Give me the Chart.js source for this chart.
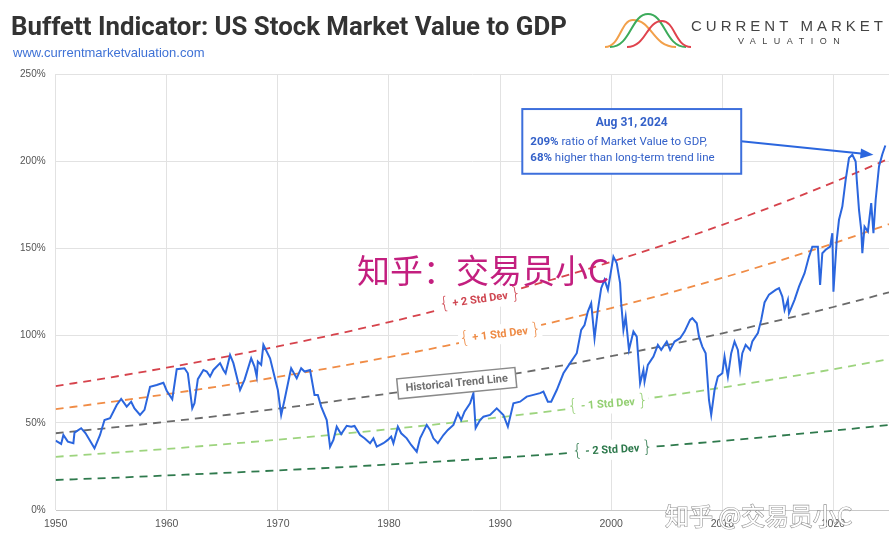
<!DOCTYPE html>
<html>
<head>
<meta charset="utf-8">
<script src="https://cdn.jsdelivr.net/npm/chart.js@4.4.1/dist/chart.umd.min.js"></script>
<style>
  html, body { margin: 0; padding: 0; background: #fff; }
  #wrap { width: 896px; height: 549px; position: relative; }
</style>
</head>
<body>
<div id="wrap"><canvas id="buffettChart" width="896" height="549"></canvas></div>
<script>
// Market value to GDP (%)
const years = [
  1950.0, 1950.5, 1950.7, 1951.1, 1951.6, 1951.7, 1952.3, 1952.7, 1953.5, 1954.0,
  1954.4, 1954.9, 1955.5, 1955.9, 1956.4, 1956.8, 1957.1, 1957.6, 1958.0, 1958.5,
  1959.1, 1959.7, 1960.0, 1960.5, 1960.9, 1961.6, 1961.9, 1962.3, 1962.5, 1962.8,
  1963.3, 1963.6, 1963.9, 1964.2, 1964.8, 1965.1, 1965.3, 1965.7, 1966.0, 1966.6,
  1967.0, 1967.6, 1967.9, 1968.1, 1968.2, 1968.5, 1968.7, 1969.3, 1969.7, 1970.0,
  1970.3, 1970.6, 1971.1, 1971.2, 1971.7, 1972.1, 1972.4, 1972.9, 1973.3, 1973.6,
  1973.9, 1974.4, 1974.7, 1975.0, 1975.3, 1975.7, 1976.2, 1976.6, 1976.9, 1977.4,
  1977.8, 1978.3, 1978.6, 1978.9, 1979.5, 1979.9, 1980.2, 1980.4, 1980.8, 1981.1,
  1981.6, 1982.0, 1982.5, 1982.8, 1983.4, 1983.7, 1984.0, 1984.4, 1984.9, 1985.3,
  1985.8, 1986.2, 1986.5, 1986.8, 1987.3, 1987.6, 1987.8, 1988.2, 1988.5, 1989.1,
  1989.7, 1990.3, 1990.7, 1991.2, 1991.8, 1992.4, 1993.0, 1993.6, 1993.9, 1994.3,
  1994.6, 1995.1, 1995.7, 1996.3, 1996.9, 1997.3, 1997.6, 1997.9, 1998.2, 1998.5,
  1998.8, 1999.1, 1999.4, 1999.7, 2000.2, 2000.5, 2000.8, 2000.9, 2001.1, 2001.3,
  2001.6, 2002.0, 2002.3, 2002.6, 2002.9, 2003.0, 2003.3, 2003.8, 2004.2, 2004.5,
  2005.0, 2005.3, 2005.7, 2006.2, 2006.6, 2007.1, 2007.3, 2007.7, 2007.9, 2008.2,
  2008.5, 2008.8, 2009.0, 2009.3, 2009.6, 2010.0, 2010.2, 2010.5, 2010.8, 2011.1,
  2011.4, 2011.6, 2011.8, 2012.1, 2012.5, 2012.7, 2013.2, 2013.5, 2013.8, 2014.2,
  2014.8, 2015.1, 2015.4, 2015.6, 2015.9, 2016.0, 2016.5, 2016.9, 2017.4, 2017.8,
  2018.1, 2018.6, 2018.8, 2019.0, 2019.3, 2019.7, 2019.9, 2020.0, 2020.3, 2020.5,
  2020.8, 2021.1, 2021.4, 2021.7, 2022.0, 2022.1, 2022.3, 2022.5, 2022.6, 2022.8,
  2023.1, 2023.4, 2023.6, 2023.8, 2024.1, 2024.4, 2024.67
];
const ratio = [
  39.8, 37.9, 43.0, 39.2, 38.3, 44.4, 46.9, 44.0, 35.4, 43.0,
  51.6, 52.6, 60.2, 63.7, 59.3, 62.1, 58.3, 54.5, 57.4, 70.7,
  71.7, 73.0, 68.4, 63.5, 80.7, 81.3, 78.4, 58.3, 61.2, 75.0,
  80.3, 79.4, 76.5, 80.3, 84.2, 80.3, 78.4, 88.9, 84.2, 68.8,
  74.6, 87.0, 82.2, 76.5, 85.1, 83.2, 94.7, 87.0, 76.5, 68.8,
  54.5, 63.1, 78.4, 81.3, 75.6, 81.3, 79.4, 80.3, 66.0, 66.0,
  59.3, 51.6, 36.3, 40.2, 47.8, 43.5, 48.3, 47.8, 48.2, 43.0,
  41.1, 38.3, 41.1, 36.3, 38.3, 40.2, 42.1, 38.3, 47.8, 44.0,
  41.1, 37.3, 33.4, 41.1, 48.8, 45.9, 41.1, 38.3, 43.0, 45.9,
  48.8, 55.5, 51.6, 56.4, 61.2, 67.0, 47.0, 51.6, 53.5, 54.5,
  58.3, 54.5, 47.8, 61.2, 62.1, 65.0, 66.0, 67.0, 67.9, 62.1,
  62.1, 68.8, 78.4, 84.2, 89.9, 103.3, 106.1, 113.8, 118.6, 98.5,
  114.7, 127.2, 132.0, 126.2, 145.3, 141.5, 130.1, 118.6, 103.3, 110.9,
  91.8, 102.3, 99.4, 72.7, 80.3, 73.6, 83.2, 88.0, 94.7, 91.8,
  96.6, 91.8, 96.6, 98.5, 102.3, 109.0, 110.0, 107.1, 99.4, 93.7,
  89.9, 63.1, 54.5, 68.8, 76.5, 78.4, 88.0, 76.5, 89.9, 96.6,
  91.8, 80.3, 89.9, 94.7, 91.8, 96.6, 101.4, 109.0, 119.0, 123.5,
  126.2, 127.2, 122.4, 114.7, 120.5, 112.8, 120.5, 128.1, 135.8, 145.3,
  151.0, 151.0, 129.0, 147.2, 149.2, 151.0, 158.7, 125.2, 154.9, 166.4,
  174.0, 189.3, 201.8, 203.7, 199.8, 189.3, 172.1, 160.6, 147.3, 162.5,
  159.7, 176.0, 158.7, 177.9, 197.0, 204.0, 209.0
];

// trend and std-dev bands, read every 5 years
const trendYears = [1950, 1955, 1960, 1965, 1970, 1975, 1980, 1985, 1990, 1995, 2000, 2005, 2010, 2015, 2020, 2025];
const plusTwoSd  = [71.0, 76.1, 81.6, 87.5, 93.8, 100.5, 107.7, 115.5, 123.8, 132.7, 142.3, 152.5, 163.5, 175.2, 187.9, 201.4];
const plusOneSd  = [57.8, 62.0, 66.4, 71.2, 76.3, 81.8, 87.7, 94.0, 100.8, 108.0, 115.8, 124.1, 133.1, 142.7, 152.9, 163.9];
const trendLine  = [44.0, 47.2, 50.6, 54.2, 58.1, 62.3, 66.8, 71.6, 76.7, 82.2, 88.2, 94.5, 101.3, 108.6, 116.4, 124.8];
const minusOneSd = [30.5, 32.7, 35.0, 37.6, 40.3, 43.2, 46.3, 49.6, 53.2, 57.0, 61.1, 65.5, 70.2, 75.3, 80.7, 86.5];
const minusTwoSd = [17.2, 18.4, 19.8, 21.2, 22.7, 24.3, 26.1, 28.0, 30.0, 32.1, 34.5, 36.9, 39.6, 42.5, 45.5, 48.8];

const xTicks = [1950, 1960, 1970, 1980, 1990, 2000, 2010, 2020];

const BLUE = '#2b66de';

function toPoints(xs, ys) {
  return xs.map((x, i) => ({ x: x, y: ys[i] }));
}

function bandDataset(values, color) {
  return {
    data: toPoints(trendYears, values),
    borderColor: color,
    borderWidth: 1.8,
    borderDash: [8, 6],
    pointRadius: 0,
    cubicInterpolationMode: 'monotone',
    fill: false
  };
}

// pixel point on a dataset line for a given year
function linePoint(chart, dsIndex, year) {
  const pts = chart.getDatasetMeta(dsIndex).data;
  const px = chart.scales.x.getPixelForValue(year);
  for (let i = 0; i < pts.length - 1; i++) {
    if (px >= pts[i].x && px <= pts[i + 1].x) {
      const t = (px - pts[i].x) / (pts[i + 1].x - pts[i].x);
      return { x: px, y: pts[i].y + t * (pts[i + 1].y - pts[i].y) };
    }
  }
  return null;
}

function drawTag(ctx, p, deg, text, color, boxed) {
  ctx.save();
  ctx.translate(p.x, p.y);
  ctx.rotate(deg * Math.PI / 180);
  ctx.font = 'bold 11px Roboto';
  const w = ctx.measureText(text).width;
  ctx.fillStyle = '#fff';
  if (boxed) {
    ctx.fillRect(-w / 2 - 8, -10, w + 16, 20);
    ctx.strokeStyle = '#8a8a8a';
    ctx.lineWidth = 1.5;
    ctx.strokeRect(-w / 2 - 8, -10, w + 16, 20);
  } else {
    ctx.fillRect(-w / 2 - 14, -10, w + 28, 20);
  }
  ctx.fillStyle = color;
  ctx.textAlign = 'center';
  ctx.textBaseline = 'middle';
  ctx.fillText(text, 0, 0.5);
  if (!boxed) {
    ctx.font = '300 17px "DejaVu Sans"';
    ctx.fillText('{', -w / 2 - 8, 0);
    ctx.fillText('}', w / 2 + 8, 0);
  }
  ctx.restore();
}

const bandLabels = {
  id: 'bandLabels',
  afterDatasetsDraw(chart) {
    const ctx = chart.ctx;
    const tags = [
      { ds: 1, year: 1988.2, deg: -8, text: '+ 2 Std Dev', color: '#cf4550' },
      { ds: 2, year: 1990.0, deg: -7, text: '+ 1 Std Dev', color: '#ee8a44' },
      { ds: 3, year: 1986.1, deg: -5.5, text: 'Historical Trend Line', color: '#6f6f6f', boxed: true },
      { ds: 4, year: 1999.7, deg: -4.5, text: '- 1 Std Dev', color: '#93cf72' },
      { ds: 5, year: 2000.1, deg: -3, text: '- 2 Std Dev', color: '#2f7a4d' }
    ];
    tags.forEach(t => {
      const p = linePoint(chart, t.ds, t.year);
      if (p) drawTag(ctx, p, t.deg, t.text, t.color, t.boxed);
    });
  }
};

const callout = {
  id: 'callout',
  afterDatasetsDraw(chart) {
    const ctx = chart.ctx;
    const xs = chart.scales.x, ys = chart.scales.y;
    const left = xs.getPixelForValue(1992.0), right = xs.getPixelForValue(2011.7);
    const top = ys.getPixelForValue(229.9), bottom = ys.getPixelForValue(192.8);
    ctx.save();
    // arrow to latest reading
    const ax = right, ay = ys.getPixelForValue(211.5);
    const tx = xs.getPixelForValue(2023.6), ty = ys.getPixelForValue(203.7);
    const ang = Math.atan2(ty - ay, tx - ax);
    ctx.strokeStyle = BLUE;
    ctx.fillStyle = BLUE;
    ctx.lineWidth = 2;
    ctx.beginPath();
    ctx.moveTo(ax, ay);
    ctx.lineTo(tx - 10 * Math.cos(ang), ty - 10 * Math.sin(ang));
    ctx.stroke();
    ctx.beginPath();
    ctx.moveTo(tx, ty);
    ctx.lineTo(tx - 13 * Math.cos(ang) + 5 * Math.sin(ang), ty - 13 * Math.sin(ang) - 5 * Math.cos(ang));
    ctx.lineTo(tx - 13 * Math.cos(ang) - 5 * Math.sin(ang), ty - 13 * Math.sin(ang) + 5 * Math.cos(ang));
    ctx.closePath();
    ctx.fill();
    // box
    ctx.fillStyle = '#fff';
    ctx.fillRect(left, top, right - left, bottom - top);
    ctx.strokeStyle = '#3d6fdc';
    ctx.lineWidth = 2;
    ctx.strokeRect(left, top, right - left, bottom - top);
    ctx.fillStyle = '#3461c9';
    ctx.textBaseline = 'middle';
    ctx.textAlign = 'center';
    ctx.font = 'bold 12px Roboto';
    ctx.fillText('Aug 31, 2024', (left + right) / 2, top + 14);
    ctx.textAlign = 'left';
    const rows = [['209%', ' ratio of Market Value to GDP,'], ['68%', ' higher than long-term trend line']];
    rows.forEach((r, i) => {
      const y = top + 33 + i * 16.5;
      ctx.font = 'bold 11.5px Roboto';
      ctx.fillText(r[0], left + 8, y);
      const w = ctx.measureText(r[0]).width;
      ctx.font = '11.5px Roboto';
      ctx.fillText(r[1], left + 8 + w, y);
    });
    ctx.restore();
  }
};

const frame = {
  id: 'frame',
  afterDraw(chart) {
    const ctx = chart.ctx;
    ctx.save();
    // title, fitted to the original width
    ctx.fillStyle = '#333';
    ctx.textBaseline = 'alphabetic';
    ctx.textAlign = 'left';
    const title = 'Buffett Indicator: US Stock Market Value to GDP';
    ctx.font = 'bold 22px Roboto';
    const tw = ctx.measureText(title).width;
    ctx.font = 'bold ' + (22 * 556 / tw).toFixed(2) + 'px Roboto';
    ctx.fillText(title, 11, 35);
    ctx.fillStyle = '#3f72d6';
    ctx.font = '13px "Liberation Sans"';
    ctx.fillText('www.currentmarketvaluation.com', 13, 57);

    // logo curves
    const bell = (x0, xp, yp, x1, color) => {
      ctx.strokeStyle = color;
      ctx.lineWidth = 2;
      ctx.beginPath();
      ctx.moveTo(x0, 47);
      ctx.bezierCurveTo(x0 + (xp - x0) * 0.55, 47, xp - (xp - x0) * 0.45, yp, xp, yp);
      ctx.bezierCurveTo(xp + (x1 - xp) * 0.45, yp, x1 - (x1 - xp) * 0.55, 47, x1, 47);
      ctx.stroke();
    };
    bell(605, 633, 20, 676, '#f2a04a');
    bell(610, 648, 14, 686, '#3cab5b');
    bell(627, 662, 21, 691, '#e0434d');
    ctx.fillStyle = '#444';
    ctx.font = '15px "Liberation Sans"';
    ctx.letterSpacing = '4px';
    ctx.fillText('CURRENT MARKET', 691, 31);
    ctx.font = '9px "Liberation Sans"';
    ctx.letterSpacing = '6.5px';
    ctx.fillText('VALUATION', 738, 44);
    ctx.letterSpacing = '0px';

    // watermarks
    ctx.fillStyle = '#c31f7f';
    ctx.font = '33px "Noto Sans CJK SC"';
    ctx.fillText('知乎：交易员小C', 357, 283);
    ctx.font = '24px "Noto Sans CJK SC"';
    ctx.lineWidth = 1.2;
    ctx.strokeStyle = 'rgba(120,120,120,0.8)';
    ctx.strokeText('知乎 @交易员小C', 665, 525);
    ctx.fillStyle = '#fff';
    ctx.fillText('知乎 @交易员小C', 665, 525);
    ctx.restore();
  }
};

const ctx = document.getElementById('buffettChart').getContext('2d');
new Chart(ctx, {
  type: 'line',
  data: {
    datasets: [
      {
        data: toPoints(years, ratio),
        borderColor: BLUE,
        borderWidth: 2,
        pointRadius: 0,
        tension: 0,
        fill: false
      },
      bandDataset(plusTwoSd, '#d6434c'),
      bandDataset(plusOneSd, '#f08c46'),
      bandDataset(trendLine, '#6a6a6a'),
      bandDataset(minusOneSd, '#9dd47e'),
      bandDataset(minusTwoSd, '#2f7a4d')
    ]
  },
  options: {
    responsive: false,
    animation: false,
    devicePixelRatio: 1,
    layout: { padding: { top: 74, right: 7, left: 0, bottom: 0 } },
    scales: {
      x: {
        type: 'linear',
        min: 1950,
        max: 2025,
        afterBuildTicks: scale => { scale.ticks = xTicks.map(v => ({ value: v })); },
        afterFit: scale => { scale.height = 39; },
        grid: { color: '#e2e2e2', drawTicks: false },
        border: { display: false },
        ticks: {
          padding: 8,
          maxRotation: 0,
          color: '#555',
          font: { family: '"Liberation Sans Narrow", "Liberation Sans"', size: 10.5 },
          callback: v => String(v)
        }
      },
      y: {
        min: 0,
        max: 250,
        afterFit: scale => { scale.width = 55.6; },
        grid: {
          color: ctx => ctx.tick.value === 0 ? '#c8c8c8' : '#e2e2e2',
          drawTicks: false
        },
        border: { display: false },
        ticks: {
          stepSize: 50,
          padding: 10,
          color: '#555',
          font: { family: '"Liberation Sans"', size: 10 },
          callback: v => v + '%'
        }
      }
    },
    plugins: {
      legend: { display: false },
      tooltip: { enabled: false }
    }
  },
  plugins: [bandLabels, callout, frame]
});
</script>
</body>
</html>
